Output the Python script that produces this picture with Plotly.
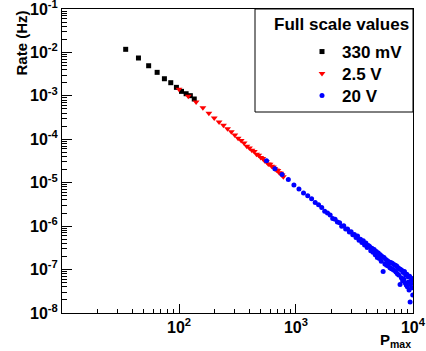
import plotly.graph_objects as go

# --- data ---
x_330mV = [35, 45, 55, 65, 75, 85, 95, 105, 115, 125, 135]
y_330mV = [1.18e-2, 7.45e-3, 4.94e-3, 3.48e-3, 2.48e-3, 2.01e-3, 1.57e-3, 1.27e-3, 1.12e-3, 1.01e-3, 8.47e-4]

x_2p5V = [100, 120, 140, 160, 180, 200, 220, 240, 260, 280, 300, 320, 340, 360, 380,
          400, 420, 440, 460, 480, 500, 520, 540, 560, 580, 600, 620, 640, 660, 680,
          700, 720, 740, 760, 780]
y_2p5V = [1.42e-3, 9.8e-4, 7.2e-4, 5.3e-4, 4.0e-4, 3.1e-4, 2.5e-4, 2.1e-4, 1.75e-4, 1.49e-4,
          1.25e-4, 1.06e-4, 9.4e-5, 8.2e-5, 6.9e-5, 6.3e-5, 5.6e-5, 5.2e-5, 4.5e-5, 4.3e-5,
          3.8e-5, 3.6e-5, 3.2e-5, 3.05e-5, 2.7e-5, 2.65e-5, 2.4e-5, 2.3e-5, 2.1e-5, 1.95e-5,
          1.9e-5, 1.7e-5, 1.65e-5, 1.5e-5, 1.38e-5]

x_20V = [560, 660, 760, 860, 960, 1060, 1160, 1260, 1360, 1460, 1560, 1660, 1760, 1860, 1960,
         2060, 2160, 2260, 2360, 2460, 2560, 2660, 2760, 2860, 2960, 3060, 3160, 3260, 3360, 3460,
         3560, 3660, 3760, 3860, 3960, 4060, 4160, 4260, 4360, 4460, 4560, 4660, 4760, 4860, 4960,
         5060, 5160, 5260, 5360, 5460, 5560, 5660, 5760, 5860, 5960, 6060, 6160, 6260, 6360, 6460,
         6560, 6660, 6760, 6860, 6960, 7060, 7160, 7260, 7360, 7460, 7560, 7660, 7760, 7860, 7960,
         8060, 8160, 8260, 8360, 8460, 8560, 8660, 8760, 8860, 8960, 9060, 9160, 9260, 9360, 9460,
         9560, 9660, 9760, 9860, 9960]
y_20V = [3.2e-5, 2.1e-5, 1.55e-5, 1.18e-5, 8.9e-6, 7.2e-6, 5.8e-6, 5.0e-6, 4.3e-6, 3.5e-6,
         3.1e-6, 2.7e-6, 2.2e-6, 2.0e-6, 1.8e-6, 1.5e-6, 1.45e-6, 1.25e-6, 1.2e-6, 1.0e-6,
         1.02e-6, 8.6e-7, 8.6e-7, 7.3e-7, 7.4e-7, 6.3e-7, 6.4e-7, 5.5e-7, 5.9e-7, 4.7e-7,
         5.0e-7, 4.2e-7, 4.6e-7, 3.7e-7, 4.1e-7, 3.2e-7, 3.6e-7, 3.4e-7, 2.7e-7, 3.1e-7,
         2.5e-7, 2.9e-7, 2.2e-7, 2.6e-7, 1.9e-7, 2.4e-7, 1.8e-7, 2.2e-7, 1.55e-7, 2.0e-7,
         9.0e-8, 1.9e-7, 1.35e-7, 1.7e-7, 1.25e-7, 1.6e-7, 1.2e-7, 1.5e-7, 1.1e-7, 1.45e-7,
         1.05e-7, 1.4e-7, 1.0e-7, 1.3e-7, 9.5e-8, 1.25e-7, 8.8e-8, 1.2e-7, 8.0e-8, 1.1e-7,
         7.5e-8, 1.05e-7, 4.5e-8, 1.0e-7, 6.5e-8, 9.5e-8, 5.5e-8, 8.5e-8, 6.0e-8, 9.0e-8,
         5.0e-8, 7.5e-8, 4.4e-8, 7.8e-8, 4.0e-8, 6.8e-8, 5.2e-8, 3.4e-8, 7.0e-8, 1.8e-8,
         4.6e-8, 5.5e-8, 3.8e-8, 6.2e-8, 2.6e-8]

series_names = ["330 mV", "2.5 V", "20 V"]
legend_title = "Full scale values"
x_title = "P<sub>max</sub>"
y_title = "Rate (Hz)"
x_tick_vals = [100, 1000, 10000]
x_tick_text = ["10<sup>2</sup>", "10<sup>3</sup>", "10<sup>4</sup>"]
y_tick_vals = [1e-8, 1e-7, 1e-6, 1e-5, 1e-4, 1e-3, 1e-2, 1e-1]
y_tick_text = ["10<sup>-8</sup>", "10<sup>-7</sup>", "10<sup>-6</sup>", "10<sup>-5</sup>",
               "10<sup>-4</sup>", "10<sup>-3</sup>", "10<sup>-2</sup>", "10<sup>-1</sup>"]

FONT = "Liberation Sans, Arial, Helvetica, sans-serif"
W, H = 426, 351
ML, MR, MT, MB = 62, 13, 9, 38
PW, PH = W - ML - MR, H - MT - MB

def px_x(p):
    return (p - ML) / PW

def px_y(p):
    return 1 - (p - MT) / PH

fig = go.Figure()
fig.add_trace(go.Scatter(x=x_330mV, y=y_330mV, mode="markers", name=series_names[0],
                         legend="legend",
                         marker=dict(symbol="square", size=5, color="#000000")))
fig.add_trace(go.Scatter(x=x_2p5V, y=y_2p5V, mode="markers", name=series_names[1],
                         legend="legend2",
                         marker=dict(symbol="triangle-down", size=6, color="#ff0000")))
fig.add_trace(go.Scatter(x=x_20V, y=y_20V, mode="markers", name=series_names[2],
                         legend="legend3",
                         marker=dict(symbol="circle", size=5, color="#0000ff")))

minor_x = [k * 10 ** e for e in range(1, 4) for k in range(2, 10)]
minor_y = [k * 10.0 ** e for e in range(-8, -1) for k in range(2, 10)]

fig.update_xaxes(type="log", range=[0.9995, 4.0005], showgrid=False, zeroline=False,
                 showline=True, linecolor="black", linewidth=1, mirror=True,
                 ticks="inside", ticklen=9, tickwidth=1, tickcolor="black",
                 tickmode="array", tickvals=x_tick_vals, ticktext=x_tick_text,
                 ticklabeloverflow="allow",
                 tickfont=dict(family=FONT, size=16, color="black", weight="bold"),
                 minor=dict(ticks="inside", ticklen=4, tickcolor="black", tickwidth=1,
                            tickmode="array", tickvals=minor_x, showgrid=False))
fig.update_yaxes(type="log", range=[-8.0005, -0.9995], showgrid=False, zeroline=False,
                 showline=True, linecolor="black", linewidth=1, mirror=True,
                 ticks="inside", ticklen=10, tickwidth=1, tickcolor="black",
                 tickmode="array", tickvals=y_tick_vals, ticktext=y_tick_text,
                 ticklabeloverflow="allow",
                 tickfont=dict(family=FONT, size=16, color="black", weight="bold"),
                 minor=dict(ticks="inside", ticklen=5, tickcolor="black", tickwidth=1,
                            tickmode="array", tickvals=minor_y, showgrid=False))

legend_font = dict(family=FONT, size=17, color="black", weight="bold")
legend_common = dict(x=px_x(302), xanchor="left", yanchor="middle",
                     bgcolor="rgba(0,0,0,0)", borderwidth=0, font=legend_font,
                     itemsizing="trace")

fig.update_layout(
    width=W, height=H, margin=dict(l=ML, r=MR, t=MT, b=MB, autoexpand=False),
    plot_bgcolor="white", paper_bgcolor="white",
    font=dict(family=FONT, color="black"),
    showlegend=True,
    legend=dict(y=px_y(52), **legend_common),
    legend2=dict(y=px_y(74), **legend_common),
    legend3=dict(y=px_y(96), **legend_common),
    shapes=[dict(type="rect", xref="paper", yref="paper",
                 x0=px_x(255), x1=1, y0=px_y(112), y1=1,
                 line=dict(color="black", width=1), fillcolor="white", layer="below")],
    annotations=[
        dict(text="<b>" + legend_title + "</b>", xref="paper", yref="paper",
             x=px_x(341), y=px_y(25), xanchor="center", yanchor="middle", showarrow=False,
             font=dict(family=FONT, size=17, color="black")),
        dict(text="<b>" + y_title + "</b>", xref="paper", yref="paper",
             x=px_x(21), y=1.0, xanchor="center", yanchor="top", textangle=-90,
             showarrow=False, font=dict(family=FONT, size=15, color="black")),
        dict(text="<b>" + x_title + "</b>", xref="paper", yref="paper",
             x=1.0, y=px_y(329), xanchor="right", yanchor="top",
             showarrow=False, font=dict(family=FONT, size=15, color="black")),
    ],
)

fig.write_html("out.html", config={"displayModeBar": False},
               post_script="document.body.style.margin='0';document.body.style.padding='0';")
